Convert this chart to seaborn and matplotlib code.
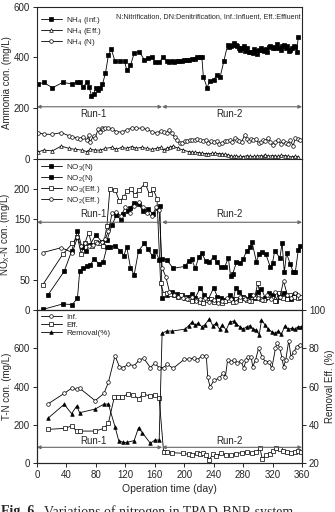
import matplotlib
matplotlib.use("Agg")
import matplotlib.pyplot as plt
import seaborn as sns

# ---------------- data ----------------
run_split = 170

# Ammonia panel
nh4_inf_day = [1, 9, 21, 35, 48, 54, 58, 62, 68, 71, 74, 77, 80, 83, 86, 89, 93, 97, 101, 106,
               113, 119, 122, 127, 132, 139, 146, 151, 156, 161, 166, 171,
               176, 180, 183, 186, 190, 193, 197, 200, 204, 207, 210, 214, 217, 222, 224,
               226, 231, 235, 240, 244, 249, 254, 259, 261, 263, 266, 268, 270, 272, 274,
               276, 279, 281, 283, 285, 288, 290, 293, 295, 297, 299, 302, 304, 306, 308,
               311, 313, 315, 317, 320, 322, 324, 326, 329, 331, 333, 335, 338, 340, 342,
               344, 347, 349, 351, 353, 355]
nh4_inf = [293, 301, 280, 301, 295, 301, 301, 282, 301, 282, 249, 255, 278, 272, 278, 295, 337, 408, 432, 384,
           384, 384, 349, 368, 416, 422, 390, 398, 400, 383, 380, 400,
           387, 383, 385, 383, 386, 384, 387, 388, 390, 388, 392, 395, 400, 402, 400,
           324, 281, 307, 310, 330, 324, 387, 449, 440, 445, 447, 456, 450, 443, 437,
           430, 438, 443, 426, 436, 420, 423, 418, 432, 425, 414, 428, 436, 430, 427,
           432, 423, 440, 443, 435, 441, 437, 454, 438, 430, 445, 449, 438, 443, 425,
           430, 437, 443, 440, 423, 482]

nh4_eff_day = [1, 9, 21, 33, 43, 52, 61, 68, 72, 79, 86, 93, 102, 108, 115, 122, 129, 135, 142, 149,
               156, 163, 168, 172, 176, 181, 185, 192, 199, 206, 211, 215, 220, 224, 229, 233, 238,
               242, 247, 251, 256, 260, 264, 267, 271, 276, 280, 285, 290, 295, 299, 304, 308, 310,
               314, 319, 323, 328, 332, 337, 341, 346, 350, 355]
nh4_eff = [26, 34, 31, 50, 41, 37, 34, 28, 37, 34, 34, 41, 45, 37, 45, 41, 48, 41, 45, 41,
           37, 41, 45, 34, 41, 45, 50, 41, 34, 28, 26, 25, 24, 22, 20, 19, 21,
           22, 20, 19, 17, 15, 10, 9, 10, 9, 8, 12, 9, 9, 10, 12, 10, 15,
           10, 12, 11, 9, 13, 12, 10, 7, 9, 8]

nh4_n_day = [1, 9, 20, 33, 43, 47, 54, 58, 63, 68, 70, 72, 77, 79, 83, 86, 88, 90, 93, 97,
             102, 108, 115, 122, 129, 135, 142, 149, 156, 163, 168, 172, 176, 179, 183, 187, 190,
             194, 197, 201, 204, 208, 211, 215, 218, 222, 226, 229, 233, 236, 240, 244, 247, 251,
             255, 258, 262, 265, 269, 272, 275, 278, 282, 285, 288, 291, 294, 297, 301, 304, 307,
             310, 314, 317, 320, 324, 327, 331, 334, 338, 341, 344, 348, 351, 354, 357]
nh4_n = [103, 97, 96, 103, 91, 86, 83, 79, 86, 72, 93, 65, 91, 83, 116, 105, 121, 116, 122, 121,
         116, 107, 105, 114, 121, 120, 121, 116, 107, 100, 110, 107, 100, 113, 103, 85, 72,
         62, 61, 68, 70, 74, 72, 74, 76, 74, 71, 74, 61, 68, 66, 68, 59, 62,
         68, 70, 74, 65, 80, 74, 71, 66, 93, 78, 68, 76, 72, 76, 63, 66, 74,
         70, 80, 65, 54, 66, 74, 60, 68, 62, 59, 72, 51, 80, 76, 74]

# NOx panel
no3_n_day = [8, 35, 48, 55, 58, 63, 68, 72, 78, 84, 90, 95, 99, 106, 113, 118, 122, 127, 132, 138,
             146, 151, 157, 161, 166, 170, 176, 185, 201, 206, 210, 215, 220, 224, 229, 234, 240,
             244, 250, 255, 260, 263, 266, 271, 276, 280, 285, 290, 292, 298, 302, 306, 311, 317,
             320, 323, 330, 333, 336, 339, 344, 348, 351, 355, 357]
no3_n = [1, 10, 9, 20, 64, 70, 72, 74, 85, 76, 80, 104, 104, 106, 98, 90, 104, 70, 58, 98,
         110, 100, 89, 98, 83, 85, 83, 69, 72, 81, 84, 69, 88, 94, 81, 79, 88,
         79, 71, 71, 86, 56, 60, 79, 77, 84, 98, 104, 113, 80, 93, 96, 92, 71,
         78, 98, 86, 111, 62, 94, 76, 63, 63, 99, 105]

no2_n_day = [15, 37, 47, 55, 61, 66, 72, 80, 88, 95, 102, 108, 114, 117, 123, 127, 132, 138, 144, 151,
             158, 164, 167, 170, 176, 183, 190, 197, 204, 210, 215, 222, 227, 233, 240, 245, 250,
             256, 262, 267, 270, 275, 280, 286, 290, 296, 300, 305, 310, 315, 320, 325, 330, 335,
             340, 345, 350, 355]
no2_n = [25, 64, 97, 131, 104, 97, 108, 124, 113, 115, 141, 157, 149, 159, 163, 169, 177, 175, 164, 167,
         158, 169, 172, 20, 25, 30, 27, 24, 22, 26, 20, 37, 25, 18, 37, 22, 20,
         16, 25, 18, 37, 30, 22, 19, 24, 20, 30, 35, 20, 28, 24, 15, 22, 28,
         20, 18, 26, 22]

no3_eff_day = [8, 35, 48, 55, 60, 65, 70, 75, 80, 85, 90, 95, 99, 106, 112, 118, 122, 128, 133, 139,
               147, 153, 158, 163, 168, 172, 176, 181, 186, 191, 196, 201, 206, 211, 216, 221, 226,
               231, 236, 241, 246, 251, 256, 261, 266, 271, 276, 281, 286, 291, 296, 300, 304, 309,
               314, 319, 324, 329, 334, 339, 344, 349, 354, 358]
no3_eff = [42, 92, 110, 120, 93, 110, 128, 106, 112, 110, 105, 139, 200, 199, 180, 186, 197, 200, 190, 199,
           209, 191, 200, 184, 44, 27, 28, 26, 24, 22, 24, 20, 18, 15, 17, 14, 12,
           16, 18, 14, 16, 12, 15, 17, 14, 18, 16, 20, 17, 15, 22, 45, 18, 16,
           22, 20, 15, 28, 20, 18, 25, 22, 20, 21]

no2_eff_day = [8, 33, 48, 55, 60, 65, 70, 76, 82, 88, 93, 97, 102, 108, 114, 120, 126, 132, 138, 144,
               150, 156, 162, 166, 170, 175, 180, 186, 192, 198, 204, 210, 216, 222, 228, 234, 240,
               246, 252, 258, 264, 270, 276, 282, 288, 294, 300, 306, 312, 318, 324, 330, 335, 340,
               345, 350, 355]
no2_eff = [95, 103, 95, 120, 105, 110, 106, 108, 110, 112, 118, 130, 160, 162, 155, 170, 160, 172, 178, 170,
           160, 155, 170, 165, 70, 55, 30, 25, 22, 20, 18, 22, 15, 18, 20, 14, 17,
           12, 15, 20, 18, 14, 22, 18, 15, 25, 20, 16, 24, 18, 30, 22, 48, 25,
           20, 28, 24]

# T-N panel
tn_inf_day = [15, 37, 47, 54, 58, 79, 91, 97, 106, 112, 117, 124, 132, 139, 145, 154, 160, 166, 172, 177,
              185, 200, 207, 213, 218, 224, 230, 232, 235, 241, 247, 253, 256, 259, 264, 268, 272,
              277, 281, 284, 287, 291, 293, 297, 301, 306, 310, 315, 319, 324, 326, 330, 333, 335,
              338, 342, 345, 349, 353, 358]
tn_inf = [309, 364, 391, 385, 391, 326, 364, 422, 560, 504, 499, 516, 509, 539, 548, 499, 521, 499, 499, 516,
          495, 542, 544, 549, 539, 561, 561, 448, 399, 434, 442, 469, 451, 539, 530, 539, 521,
          535, 495, 539, 553, 556, 504, 539, 600, 556, 530, 530, 495, 600, 630, 600, 547, 504,
          539, 640, 556, 582, 609, 617]

tn_eff_day = [15, 38, 47, 54, 58, 79, 91, 97, 105, 110, 116, 123, 131, 138, 144, 153, 160, 166, 172, 177,
              183, 198, 206, 210, 217, 221, 226, 230, 234, 239, 243, 250, 257, 264, 271, 278, 285,
              292, 298, 303, 306, 311, 316, 321, 325, 330, 334, 339, 345, 350, 355, 359]
tn_eff = [176, 181, 194, 167, 167, 167, 181, 208, 344, 344, 344, 361, 356, 335, 361, 351, 356, 338, 59, 55,
          54, 51, 45, 42, 51, 47, 51, 42, 16, 47, 38, 51, 42, 42, 49, 54, 56,
          51, 59, 77, 21, 42, 47, 65, 77, 73, 65, 56, 51, 59, 63, 59]

removal_day = [15, 37, 47, 54, 58, 79, 91, 97, 106, 111, 117, 122, 132, 138, 143, 154, 160, 166, 170, 176,
               184, 201, 206, 210, 215, 219, 224, 228, 234, 239, 243, 248, 252, 257, 262, 267, 271,
               276, 280, 285, 289, 294, 298, 302, 305, 310, 314, 319, 323, 328, 332, 337, 341, 346,
               350, 355, 359]
removal = [43.4, 50.7, 45.8, 49.8, 46.3, 48.2, 50.8, 50.8, 39, 31.7, 30.8, 30.8, 31.7, 38.5, 35.9, 30.3, 32, 32, 87.8, 89,
           89, 90, 91.8, 93.5, 92.2, 93, 91.3, 92.2, 95.3, 91.8, 93, 90, 92.2, 89.5, 93.9, 94.2, 92.5,
           91.3, 90, 91.3, 91.8, 90, 89.5, 87, 94.8, 92.2, 90, 88.7, 87.8, 89, 87.3, 91.8, 90, 90.4,
           90, 91.3, 91.3]

# ---------------- style ----------------
sns.set_style("ticks")
plt.rcParams["font.family"] = ["Liberation Sans", "DejaVu Sans"]
plt.rcParams["mathtext.fontset"] = "custom"
plt.rcParams["mathtext.rm"] = "Liberation Sans"
plt.rcParams["mathtext.it"] = "Liberation Sans"
plt.rcParams["xtick.direction"] = "out"
plt.rcParams["ytick.direction"] = "out"
plt.rcParams["axes.linewidth"] = 0.8

fig = plt.figure(figsize=(3.35, 5.12), dpi=100)
L, W = 0.1104, 0.791
ax1 = fig.add_axes([L, 0.690, W, 0.297])
ax2 = fig.add_axes([L, 0.3945, W, 0.2955])
ax3 = fig.add_axes([L, 0.0957, W, 0.2988])
ax4 = ax3.twinx()


def draw(ax, x, y, marker, filled, label):
    sns.lineplot(x=x, y=y, ax=ax, color="black", lw=0.6, marker=marker, markersize=2.6,
                 markerfacecolor="black" if filled else "white", markeredgecolor="black",
                 markeredgewidth=0.5, label=label, estimator=None, sort=False)


def run_arrows(ax, yarr, ylab, fs=7):
    ap = dict(arrowstyle="<|-|>", color="0.4", lw=0.8, mutation_scale=5, shrinkA=0, shrinkB=0,
              fill=False)
    ax.annotate("", xy=(0, yarr), xytext=(run_split, yarr), arrowprops=ap, zorder=5)
    ax.annotate("", xy=(run_split, yarr), xytext=(360, yarr), arrowprops=ap, zorder=5)
    ax.text(77, ylab, "Run-1", ha="center", va="center", fontsize=fs)
    ax.text(261, ylab, "Run-2", ha="center", va="center", fontsize=fs)


tick_fs = 7
lab_fs = 7.0
leg_kw = dict(loc="upper left", frameon=False, fontsize=5.8, handlelength=2.6,
              handletextpad=0.5, borderaxespad=0.2, borderpad=0.3)

# top panel
draw(ax1, nh4_inf_day, nh4_inf, "s", True, "NH$_4$ (Inf.)")
draw(ax1, nh4_eff_day, nh4_eff, "^", False, "NH$_4$ (Eff.)")
draw(ax1, nh4_n_day, nh4_n, "o", False, "NH$_4$ (N)")
ax1.set_xlim(0, 360)
ax1.set_ylim(0, 600)
ax1.set_yticks([0, 200, 400, 600])
ax1.set_xticks(range(0, 361, 40))
ax1.tick_params(axis="x", labelbottom=False, length=0)
ax1.set_ylabel("Ammonia con. (mg/L)", fontsize=lab_fs)
ax1.legend(bbox_to_anchor=(0, 0.97), labelspacing=0.0, **leg_kw)
ax1.text(0.995, 0.955, "N:Nitrification, DN:Denitrification, Inf.:Influent, Eff.:Effluent",
         transform=ax1.transAxes, ha="right", va="top", fontsize=5.2)
run_arrows(ax1, 205, 175)

# middle panel
draw(ax2, no3_n_day, no3_n, "s", True, "NO$_3$(N)")
draw(ax2, no2_n_day, no2_n, "s", True, "NO$_2$(N)")
draw(ax2, no3_eff_day, no3_eff, "s", False, "NO$_3$(Eff.)")
draw(ax2, no2_eff_day, no2_eff, "o", False, "NO$_2$(Eff.)")
ax2.set_xlim(0, 360)
ax2.set_ylim(0, 250)
ax2.set_yticks([0, 50, 100, 150, 200])
ax2.set_xticks(range(0, 361, 40))
ax2.tick_params(axis="x", labelbottom=False, length=0)
ax2.set_ylabel("NO$_X$-N con. (mg/L)", fontsize=lab_fs)
ax2.legend(bbox_to_anchor=(0, 1.005), labelspacing=0.0, **leg_kw)
run_arrows(ax2, 145, 158)

# bottom panel
draw(ax3, tn_inf_day, tn_inf, "o", False, "Inf.")
draw(ax3, tn_eff_day, tn_eff, "s", False, "Eff.")
draw(ax4, removal_day, removal, "^", True, "Removal(%)")
ax3.set_xlim(0, 360)
ax3.set_ylim(0, 800)
ax3.set_yticks([0, 200, 400, 600])
ax3.set_xticks(range(0, 361, 40))
ax4.set_ylim(20, 100)
ax4.set_yticks([20, 40, 60, 80, 100])
ax3.set_ylabel("T-N con. (mg/L)", fontsize=lab_fs)
ax4.set_ylabel("Removal Eff. (%)", fontsize=lab_fs)
ax3.set_xlabel("Operation time (day)", fontsize=7.5, labelpad=3)
if ax3.get_legend() is not None:
    ax3.get_legend().remove()
h1, l1 = ax3.get_legend_handles_labels()
h2, l2 = ax4.get_legend_handles_labels()
ax4.legend(h1 + h2, l1 + l2, bbox_to_anchor=(0, 1.005), labelspacing=0.05, **leg_kw)
run_arrows(ax3, 82, 115)

for ax in (ax1, ax2, ax3):
    ax.yaxis.set_label_coords(-0.094, 0.5)
ax4.yaxis.set_label_coords(1.087, 0.5)

for ax in (ax1, ax2, ax3, ax4):
    ax.tick_params(labelsize=tick_fs, length=3, width=0.7, pad=2)
    for s in ax.spines.values():
        s.set_visible(True)
ax1.tick_params(axis="x", length=0)
ax2.tick_params(axis="x", length=0)

# caption (cut by the page edge as in the source)
fig.text(0.003, 0.013, "Fig. 6.", fontsize=10, fontweight="bold", family="Liberation Serif",
         va="top", ha="left")
fig.text(0.13, 0.013, "Variations of nitrogen in TPAD-BNR system", fontsize=10,
         family="Liberation Serif", va="top", ha="left")

fig.savefig("out.png", dpi=100)
